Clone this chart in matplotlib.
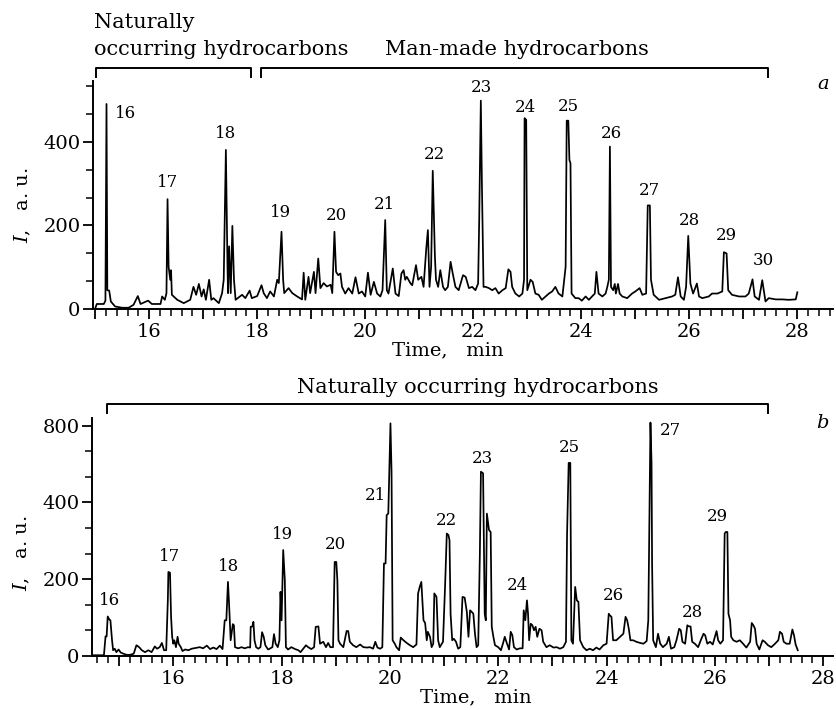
import matplotlib
matplotlib.use('Agg')
import matplotlib.pyplot as plt
from matplotlib.ticker import MultipleLocator, FuncFormatter
from matplotlib.lines import Line2D

# ---------------- data: panel a ----------------
time_a = [15.00, 15.03, 15.16, 15.19, 15.21, 15.225, 15.26, 15.29, 15.37, 15.50, 15.62, 15.71, 15.79, 15.84,
          15.98, 16.05, 16.21, 16.24, 16.29, 16.32, 16.34, 16.36, 16.39, 16.405, 16.42, 16.52, 16.64, 16.70,
          16.76, 16.82, 16.87, 16.92, 16.97, 17.01, 17.05, 17.11, 17.15, 17.19, 17.29, 17.35, 17.38, 17.42,
          17.45, 17.46, 17.48, 17.51, 17.54, 17.57, 17.60, 17.72, 17.78, 17.86, 17.90, 18.00, 18.08, 18.12,
          18.18, 18.24, 18.31, 18.37, 18.40, 18.45, 18.48, 18.50, 18.58, 18.65, 18.74, 18.83, 18.86, 18.89,
          18.95, 18.98, 19.05, 19.08, 19.13, 19.17, 19.23, 19.29, 19.36, 19.39, 19.43, 19.46, 19.50, 19.54,
          19.57, 19.63, 19.69, 19.76, 19.82, 19.88, 19.94, 20.00, 20.05, 20.10, 20.16, 20.22, 20.28, 20.32,
          20.37, 20.40, 20.43, 20.51, 20.56, 20.62, 20.67, 20.71, 20.74, 20.77, 20.84, 20.87, 20.94, 20.98,
          21.04, 21.08, 21.13, 21.16, 21.19, 21.22, 21.25, 21.29, 21.31, 21.35, 21.39, 21.44, 21.48, 21.53,
          21.58, 21.62, 21.67, 21.73, 21.81, 21.86, 21.92, 21.98, 22.04, 22.09, 22.11, 22.14, 22.16, 22.19,
          22.23, 22.29, 22.35, 22.41, 22.47, 22.54, 22.60, 22.65, 22.69, 22.72, 22.78, 22.85, 22.91, 22.94,
          22.95, 22.98, 23.00, 23.06, 23.10, 23.15, 23.21, 23.27, 23.34, 23.40, 23.46, 23.52, 23.58, 23.65,
          23.71, 23.73, 23.76, 23.78, 23.80, 23.82, 23.89, 23.95, 24.01, 24.08, 24.14, 24.20, 24.25, 24.28,
          24.32, 24.39, 24.45, 24.48, 24.51, 24.53, 24.55, 24.59, 24.62, 24.64, 24.68, 24.71, 24.76, 24.85,
          24.94, 25.00, 25.08, 25.13, 25.20, 25.23, 25.27, 25.29, 25.34, 25.44, 25.56, 25.68, 25.74, 25.79,
          25.84, 25.90, 25.94, 25.98, 26.02, 26.07, 26.14, 26.18, 26.24, 26.36, 26.42, 26.52, 26.61, 26.64,
          26.69, 26.72, 26.79, 26.92, 27.04, 27.10, 27.17, 27.21, 27.29, 27.35, 27.41, 27.47, 27.60, 27.72,
          27.84, 27.97, 28.00]
signal_a = [1, 12, 12, 20, 491, 45, 44, 18, 6, 3, 3, 10, 31, 12,
            20, 12, 12, 30, 22, 38, 263, 101, 70, 93, 34, 22, 14, 18,
            22, 53, 34, 60, 30, 47, 22, 70, 22, 26, 14, 38, 70, 381,
            101, 38, 150, 38, 199, 70, 22, 34, 26, 44, 26, 31, 57, 38,
            26, 42, 30, 70, 62, 185, 70, 38, 50, 38, 30, 23, 87, 22,
            77, 38, 89, 38, 121, 50, 62, 54, 58, 38, 185, 89, 81, 85,
            53, 37, 50, 37, 76, 37, 42, 30, 87, 34, 65, 37, 30, 45,
            213, 45, 37, 97, 37, 31, 85, 93, 70, 77, 61, 57, 105, 70,
            77, 53, 145, 189, 53, 101, 331, 125, 70, 53, 93, 53, 45, 53,
            113, 85, 53, 45, 81, 77, 50, 53, 45, 61, 213, 499, 300, 53,
            53, 50, 45, 50, 37, 45, 50, 95, 89, 53, 37, 30, 37, 70,
            457, 453, 45, 70, 65, 37, 34, 22, 30, 37, 42, 53, 37, 30,
            101, 451, 451, 357, 349, 37, 26, 26, 20, 30, 22, 30, 37, 89,
            37, 30, 37, 52, 70, 389, 53, 45, 60, 37, 60, 37, 30, 26,
            37, 42, 50, 34, 37, 248, 248, 70, 34, 22, 26, 30, 34, 76,
            30, 22, 53, 175, 61, 37, 61, 30, 26, 30, 37, 37, 42, 136,
            133, 45, 34, 30, 30, 37, 71, 30, 22, 69, 18, 26, 23, 23,
            22, 23, 40]
peak_num_a = ['16', '17', '18', '19', '20', '21', '22', '23', '24', '25', '26', '27', '28', '29', '30']
peak_lbl_t_a = [15.56, 16.34, 17.42, 18.44, 19.46, 20.35, 21.29, 22.15, 22.96, 23.76, 24.55, 25.27, 26.01, 26.68, 27.37]
peak_lbl_i_a = [467, 302, 421, 232, 223, 251, 371, 531, 483, 484, 421, 283, 211, 177, 115]

# ---------------- data: panel b ----------------
time_b = [14.49, 14.72, 14.75, 14.77, 14.79, 14.82, 14.84, 14.87, 14.89, 14.92, 14.95, 14.99, 15.03, 15.08,
          15.14, 15.20, 15.27, 15.32, 15.37, 15.42, 15.48, 15.54, 15.60, 15.66, 15.70, 15.75, 15.79, 15.83,
          15.87, 15.90, 15.91, 15.94, 15.96, 15.98, 16.00, 16.02, 16.05, 16.08, 16.10, 16.14, 16.17, 16.22,
          16.28, 16.34, 16.42, 16.49, 16.55, 16.62, 16.68, 16.74, 16.80, 16.86, 16.91, 16.95, 16.98, 17.01,
          17.03, 17.06, 17.10, 17.12, 17.14, 17.20, 17.26, 17.32, 17.38, 17.42, 17.43, 17.46, 17.48, 17.50,
          17.53, 17.57, 17.61, 17.64, 17.67, 17.70, 17.75, 17.78, 17.83, 17.86, 17.89, 17.93, 17.96, 17.98,
          18.00, 18.03, 18.06, 18.08, 18.12, 18.18, 18.25, 18.31, 18.35, 18.40, 18.45, 18.49, 18.55, 18.60,
          18.63, 18.68, 18.71, 18.77, 18.82, 18.86, 18.90, 18.95, 18.98, 19.01, 19.03, 19.05, 19.08, 19.14,
          19.20, 19.23, 19.26, 19.32, 19.38, 19.45, 19.51, 19.58, 19.63, 19.69, 19.73, 19.77, 19.82, 19.86,
          19.89, 19.92, 19.94, 19.97, 20.01, 20.03, 20.05, 20.09, 20.12, 20.17, 20.20, 20.25, 20.31, 20.37,
          20.43, 20.49, 20.52, 20.55, 20.58, 20.62, 20.65, 20.68, 20.70, 20.74, 20.77, 20.80, 20.82, 20.86,
          20.89, 20.92, 20.98, 21.02, 21.05, 21.08, 21.10, 21.12, 21.15, 21.18, 21.22, 21.26, 21.30, 21.34,
          21.38, 21.42, 21.45, 21.48, 21.51, 21.54, 21.57, 21.60, 21.63, 21.66, 21.68, 21.72, 21.75, 21.77,
          21.79, 21.83, 21.86, 21.88, 21.91, 21.94, 22.00, 22.05, 22.09, 22.12, 22.15, 22.20, 22.23, 22.26,
          22.29, 22.34, 22.40, 22.45, 22.47, 22.50, 22.53, 22.55, 22.57, 22.60, 22.63, 22.66, 22.69, 22.72,
          22.76, 22.80, 22.83, 22.89, 22.95, 23.02, 23.08, 23.14, 23.20, 23.25, 23.27, 23.30, 23.33, 23.35,
          23.38, 23.42, 23.45, 23.48, 23.51, 23.57, 23.63, 23.69, 23.75, 23.81, 23.87, 23.94, 24.00, 24.04,
          24.06, 24.09, 24.12, 24.18, 24.25, 24.31, 24.35, 24.38, 24.41, 24.44, 24.49, 24.55, 24.62, 24.68,
          24.74, 24.77, 24.79, 24.81, 24.83, 24.84, 24.86, 24.91, 24.95, 24.99, 25.04, 25.11, 25.15, 25.19,
          25.25, 25.29, 25.34, 25.37, 25.40, 25.45, 25.49, 25.52, 25.55, 25.58, 25.63, 25.69, 25.75, 25.79,
          25.82, 25.86, 25.91, 25.96, 26.03, 26.06, 26.10, 26.15, 26.18, 26.20, 26.23, 26.25, 26.28, 26.30,
          26.34, 26.40, 26.46, 26.52, 26.58, 26.65, 26.68, 26.71, 26.74, 26.77, 26.82, 26.88, 26.92, 26.98,
          27.04, 27.11, 27.17, 27.20, 27.24, 27.27, 27.32, 27.38, 27.43, 27.46, 27.49, 27.53]
signal_b = [2, 2, 51, 51, 103, 95, 93, 41, 15, 19, 10, 17, 9, 6,
            3, 3, 6, 28, 23, 15, 10, 15, 10, 25, 19, 23, 34, 15,
            15, 145, 219, 217, 102, 50, 32, 41, 23, 50, 32, 23, 13, 17,
            15, 19, 21, 23, 20, 27, 18, 22, 18, 27, 18, 93, 93, 193,
            137, 41, 83, 80, 23, 20, 23, 20, 23, 22, 76, 77, 89, 41,
            23, 19, 23, 62, 50, 28, 17, 19, 23, 57, 32, 23, 41, 167,
            93, 276, 197, 23, 17, 23, 18, 15, 10, 19, 28, 23, 18, 23,
            76, 77, 32, 37, 23, 34, 23, 23, 245, 245, 197, 41, 32, 23,
            65, 65, 37, 28, 23, 30, 23, 22, 23, 19, 37, 22, 19, 23,
            241, 241, 367, 371, 606, 480, 41, 32, 23, 15, 48, 41, 34, 28,
            23, 30, 163, 180, 193, 93, 86, 41, 63, 50, 23, 32, 163, 154,
            41, 23, 37, 189, 319, 315, 302, 110, 41, 45, 37, 19, 23, 154,
            152, 115, 50, 119, 115, 110, 58, 23, 28, 263, 480, 476, 110, 93,
            371, 328, 323, 76, 50, 28, 23, 15, 34, 50, 37, 17, 63, 54,
            23, 17, 20, 20, 119, 93, 145, 110, 41, 84, 80, 67, 76, 50,
            71, 67, 37, 23, 28, 22, 23, 19, 23, 37, 315, 503, 503, 41,
            32, 180, 145, 141, 41, 23, 15, 19, 15, 22, 17, 28, 32, 110,
            106, 102, 41, 41, 50, 58, 102, 93, 71, 41, 41, 37, 34, 32,
            39, 93, 354, 608, 502, 241, 41, 23, 58, 32, 23, 32, 50, 19,
            23, 41, 71, 67, 37, 32, 80, 77, 77, 37, 32, 23, 45, 58,
            54, 32, 37, 30, 65, 41, 32, 41, 319, 323, 323, 110, 93, 50,
            41, 37, 41, 32, 22, 37, 86, 80, 71, 32, 17, 41, 37, 28,
            23, 32, 41, 63, 58, 37, 32, 32, 69, 54, 30, 15]
peak_num_b = ['16', '17', '18', '19', '20', '21', '22', '23', '24', '25', '26', '27', '28', '29']
peak_lbl_t_b = [14.83, 15.93, 17.02, 18.01, 18.99, 19.73, 21.04, 21.70, 22.36, 23.31, 24.13, 25.18, 25.58, 26.04]
peak_lbl_i_b = [145, 260, 232, 317, 291, 419, 354, 515, 183, 544, 158, 587, 113, 363]

yticks_a = [0, 200, 400]
yticklabels_a = ['0', '200', '400']
yticks_b = [0, 200, 400, 600]
yticklabels_b = ['0', '200', '400', '800']

# ---------------- figure ----------------
plt.rcParams['font.family'] = ['DejaVu Serif']
plt.rcParams['mathtext.fontset'] = 'dejavuserif'

W, H = 837, 710
fig = plt.figure(figsize=(W / 100, H / 100), dpi=100)


def fx(px):
    return px / W


def fy(py):
    return 1 - py / H


ax_a = fig.add_axes([fx(93), fy(309), fx(833) - fx(93), fy(81) - fy(309)])
ax_b = fig.add_axes([fx(92), fy(656), fx(833) - fx(92), fy(418) - fy(656)])

TICK_FS = 14
LBL_FS = 12
NOTE_FS = 15


def even_fmt(v, pos):
    iv = int(round(v))
    return str(iv) if iv % 2 == 0 else ''


def style(ax, xlim, ylim, yt, ytl, xlab_x, xlab_y, ylab_y):
    ax.set_xlim(*xlim)
    ax.set_ylim(*ylim)
    for s in ('top', 'right'):
        ax.spines[s].set_visible(False)
    for s in ('left', 'bottom'):
        ax.spines[s].set_linewidth(1.4)
    ax.xaxis.set_major_locator(MultipleLocator(1))
    ax.xaxis.set_major_formatter(FuncFormatter(even_fmt))
    ax.xaxis.set_minor_locator(MultipleLocator(0.2))
    ax.set_yticks(yt)
    ax.set_yticklabels(ytl)
    ax.yaxis.set_minor_locator(MultipleLocator(200 / 3))
    ax.tick_params(which='major', length=7, width=1.3, labelsize=TICK_FS, direction='out')
    ax.tick_params(which='minor', length=5, width=1.1, direction='out')
    ax.tick_params(axis='x', which='major', pad=3)
    ax.tick_params(axis='y', which='major', pad=2)
    ax.set_xlabel('Time,   min', fontsize=TICK_FS)
    ax.xaxis.set_label_coords(xlab_x, xlab_y)
    ax.set_ylabel(r'$I$,   a. u.', fontsize=TICK_FS)
    ax.yaxis.set_label_coords(-0.081, ylab_y)


ax_a.plot(time_a, signal_a, color='black', lw=1.25)
ax_b.plot(time_b, signal_b, color='black', lw=1.25)

style(ax_a, (14.96, 28.66), (0, 546), yticks_a, yticklabels_a, 0.48, -0.14, 0.456)
style(ax_b, (14.50, 28.18), (0, 620), yticks_b, yticklabels_b, 0.518, -0.134, 0.433)

for n, t, i in zip(peak_num_a, peak_lbl_t_a, peak_lbl_i_a):
    ax_a.text(t, i, n, ha='center', va='center', fontsize=LBL_FS)
for n, t, i in zip(peak_num_b, peak_lbl_t_b, peak_lbl_i_b):
    ax_b.text(t, i, n, ha='center', va='center', fontsize=LBL_FS)

ax_a.text(0.987, 0.985, 'a', transform=ax_a.transAxes, fontsize=TICK_FS, style='italic', ha='center', va='center')
ax_b.text(0.986, 0.98, 'b', transform=ax_b.transAxes, fontsize=TICK_FS, style='italic', ha='center', va='center')


def bracket(x0, x1, ytop, ybot):
    fig.add_artist(Line2D([fx(x0), fx(x0), fx(x1), fx(x1)], [fy(ybot), fy(ytop), fy(ytop), fy(ybot)],
                          transform=fig.transFigure, color='black', lw=1.4))


bracket(96, 251, 68, 77)
bracket(261, 768, 68, 77)
bracket(107, 768, 404, 413)

fig.text(fx(94), fy(28), 'Naturally', ha='left', va='baseline', fontsize=NOTE_FS)
fig.text(fx(94), fy(55), 'occurring hydrocarbons', ha='left', va='baseline', fontsize=NOTE_FS)
fig.text(fx(385), fy(55), 'Man-made hydrocarbons', ha='left', va='baseline', fontsize=NOTE_FS)
fig.text(fx(478), fy(393), 'Naturally occurring hydrocarbons', ha='center', va='baseline', fontsize=NOTE_FS)

fig.savefig('out.png', dpi=100)
